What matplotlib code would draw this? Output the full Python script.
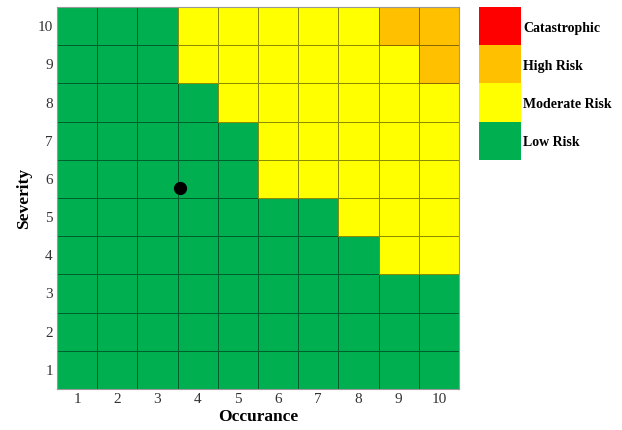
import numpy as np
import matplotlib.pyplot as plt
from matplotlib.colors import ListedColormap

plt.rcParams['font.family'] = ['Liberation Serif', 'DejaVu Serif']

occurance = [1, 2, 3, 4, 5, 6, 7, 8, 9, 10]
severity = [1, 2, 3, 4, 5, 6, 7, 8, 9, 10]

# risk level per cell, rows = severity 1..10, 0 low, 1 moderate, 2 high, 3 catastrophic
risk = [
    [0, 0, 0, 0, 0, 0, 0, 0, 0, 0],
    [0, 0, 0, 0, 0, 0, 0, 0, 0, 0],
    [0, 0, 0, 0, 0, 0, 0, 0, 0, 0],
    [0, 0, 0, 0, 0, 0, 0, 0, 1, 1],
    [0, 0, 0, 0, 0, 0, 0, 1, 1, 1],
    [0, 0, 0, 0, 0, 1, 1, 1, 1, 1],
    [0, 0, 0, 0, 0, 1, 1, 1, 1, 1],
    [0, 0, 0, 0, 1, 1, 1, 1, 1, 1],
    [0, 0, 0, 1, 1, 1, 1, 1, 1, 2],
    [0, 0, 0, 1, 1, 1, 1, 1, 2, 2],
]

levels = ['Low Risk', 'Moderate Risk', 'High Risk', 'Catastrophic']
level_colors = ['#00B050', '#FFFF00', '#FFC000', '#FF0000']

point_occ = 3.57
point_sev = 5.75

cmap = ListedColormap(level_colors)

fig = plt.figure(figsize=(6.22, 4.30), dpi=100)
ax = fig.add_axes([57/622, 1 - 389/430, 402/622, 382/430])

edges = np.arange(0.5, 11.0, 1.0)
ax.pcolormesh(edges, edges, np.array(risk), cmap=cmap, vmin=-0.5, vmax=3.5,
              edgecolor=(0, 0, 0, 0.45), linewidth=0.6)
ax.plot(point_occ, point_sev, 'o', color='black', markersize=8.5)

ax.set_xlim(0.5, 10.5)
ax.set_ylim(0.5, 10.5)
ax.set_xticks(occurance)
ax.set_yticks(severity)
ax.tick_params(length=0, labelsize=11, pad=3, colors='#333333')
for s in ax.spines.values():
    s.set_color('#999999')
    s.set_linewidth(0.8)
ax.set_xlabel('Occurance', fontsize=12.5, fontweight='bold', labelpad=2)
ax.set_ylabel('Severity', fontsize=12.5, fontweight='bold', labelpad=4)

# legend as a stack of coloured boxes
lax = fig.add_axes([479/622, 1 - 160/430, 42/622, 153/430])
lax.imshow(np.array([[3], [2], [1], [0]]), cmap=cmap, vmin=-0.5, vmax=3.5,
           aspect='auto', extent=(0, 1, 0, 4))
lax.set_xlim(0, 1)
lax.set_ylim(0, 4)
lax.axis('off')
for i, name in enumerate(levels):
    lax.text(1.05, i + 0.45, name, fontsize=10, fontweight='bold',
             va='center', ha='left', transform=lax.transData)

fig.savefig('out.png', dpi=100)
